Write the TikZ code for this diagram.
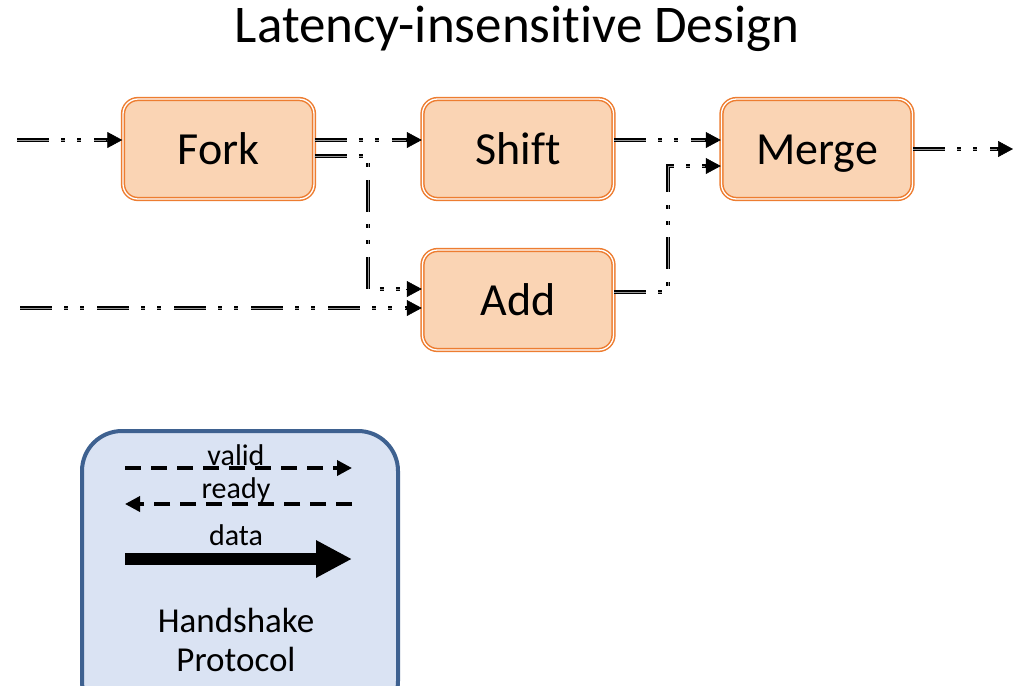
\documentclass[tikz,border=0pt]{standalone}
\usepackage{fontspec}
\setmainfont{Carlito}[Ligatures={NoCommon}]
\usetikzlibrary{arrows.meta}
\definecolor{boxfill}{HTML}{FAD4B4}
\definecolor{boxline}{HTML}{ED7D31}
\definecolor{legfill}{HTML}{DAE3F3}
\definecolor{legline}{HTML}{3E6190}
\begin{document}
\begin{tikzpicture}[x=1pt,y=-1pt,
  stage/.style={draw=boxline, line width=1.5pt, double=white, double distance=1.3pt,
    fill=boxfill, rounded corners=15pt, minimum width=191pt, minimum height=100pt,
    inner sep=0pt, font=\fontsize{46}{50}\selectfont, text height=30pt, text depth=0pt},
  hs/.style={draw, line width=1.6pt, double=black!40, double distance=0.9pt,
    dash pattern=on 32pt off 12pt on 4pt off 12pt on 4pt off 13pt, shorten >=14pt},
  headmark/.style={-{Triangle[length=15pt,width=16pt]}, line width=0.6pt},
  sig/.style={line width=3.5pt, dash pattern=on 16pt off 10pt,
    -{Triangle[length=15pt,width=15pt]}},
  lab/.style={anchor=base, font=\fontsize{30}{34}\selectfont, inner sep=0pt},
  legendbox/.style={draw=legline, line width=4pt, fill=legfill, rounded corners=40pt,
    anchor=north west, minimum width=316pt, minimum height=290pt, inner sep=0pt}]
\useasboundingbox (0,0) rectangle (1013,686);

% title
\node[anchor=base, font=\fontsize{53}{60}\selectfont] (title) at (517,42) {Latency-insensitive Design};

% pipeline stages
\node[stage] (fork)  at (218.5,149) {Fork};
\node[stage] (shift) at (518,149)   {Shift};
\node[stage] (merge) at (817,149)   {Merge};
\node[stage] (add)   at (518,300)   {Add};

% free ends and bends of the handshake channels
\coordinate (inA) at (17,140);
\coordinate (inB) at (20,308);
\coordinate (outM) at (1013,149);
\coordinate (faTurn) at (368,156);
\coordinate (faDown) at (368,289);
\coordinate (amTurn) at (668,292);
\coordinate (amUp) at (668,166);

% channel end points on the stage borders
\coordinate (eFork) at (fork.west |- inA);
\coordinate (eShift) at (shift.west |- inA);
\coordinate (eAddTop) at (add.west |- faDown);
\coordinate (eAddBot) at (add.west |- inB);
\coordinate (eMergeTop) at (merge.west |- inA);
\coordinate (eMergeBot) at (merge.west |- amUp);

% handshake channels
\draw[hs] (inA) -- (eFork);
\draw[hs] (fork.east |- inA) -- (eShift);
\draw[hs] (fork.east |- faTurn) -- (faTurn) -- (faDown) -- (eAddTop);
\draw[hs] (inB) -- (eAddBot);
\draw[hs] (shift.east |- inA) -- (eMergeTop);
\draw[hs] (add.east |- amTurn) -- (amTurn) -- (amUp) -- (eMergeBot);
\draw[hs] (merge.east) -- (outM);

% arrow heads of the channels
\foreach \e in {eFork,eShift,eAddTop,eAddBot,eMergeTop,eMergeBot,outM}
  \draw[headmark] ([xshift=-16pt]\e) -- (\e);

% legend
\node[legendbox] (legend) at (80,429) {};
\coordinate (vL) at (125,468);
\coordinate (vR) at (352,468);
\coordinate (rL) at (125,504);
\coordinate (rR) at (352,504);
\coordinate (dL) at (125,559);
\coordinate (dR) at (352,559);
\node[lab] (valid) at (236,465) {valid};
\node[lab] (ready) at (236,498) {ready};
\node[lab] (data)  at (236,545) {data};
\draw[sig] (vL) -- (vR);
\draw[sig] (rR) -- (rL);
\draw[line width=12pt, -{Triangle[length=36pt,width=35pt]}] (dL) -- (dR);
\node[align=center, font=\fontsize{35}{39}\selectfont] (proto) at (236,640) {Handshake\\Protocol};
\end{tikzpicture}
\end{document}
